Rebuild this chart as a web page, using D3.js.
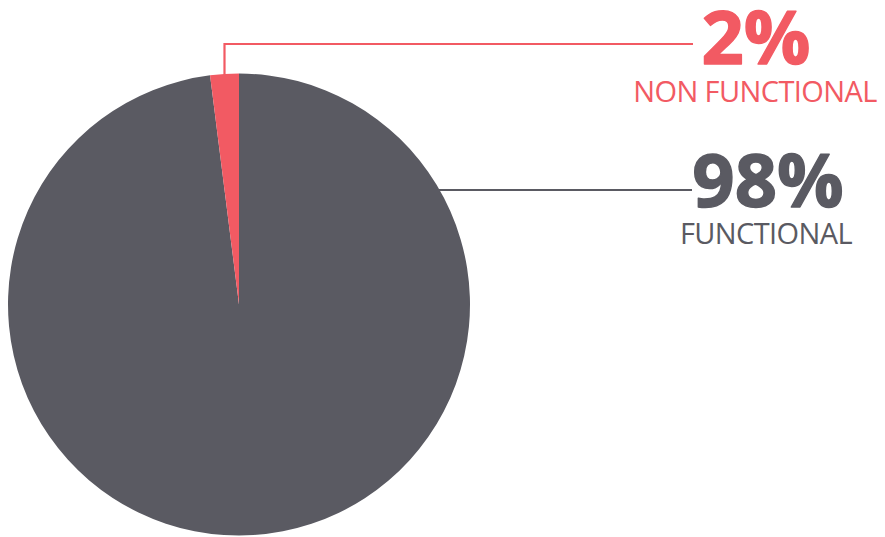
<!DOCTYPE html>
<html>
<head>
<meta charset="utf-8">
<script src="https://cdn.jsdelivr.net/npm/d3@7"></script>
<style>
  html, body { margin: 0; padding: 0; background: #ffffff; }
  svg { display: block; }
  text { font-family: "Open Sans", sans-serif; }
</style>
</head>
<body>
<svg id="chart" width="885" height="537"></svg>
<script>
// Data
const categories = ["FUNCTIONAL", "NON FUNCTIONAL"];
const values = [98, 2];
const percentLabels = ["98%", "2%"];
const colors = ["#5a5a62", "#f25a63"];

const svg = d3.select("#chart");
const cx = 239, cy = 304.5, r = 231;

const pie = d3.pie().sort(null).value(d => d.value);
const data = categories.map((c, i) => ({ name: c, value: values[i], label: percentLabels[i], color: colors[i] }));
const arcs = pie(data);
const arc = d3.arc().innerRadius(0).outerRadius(r);

const g = svg.append("g").attr("transform", `translate(${cx},${cy})`);
g.selectAll("path").data(arcs).join("path")
  .attr("d", arc)
  .attr("fill", d => d.data.color);

// Label layout
const layout = {
  "NON FUNCTIONAL": { lineY: 44, lineEndX: 693, textX: 756, smallX: 755, bigY: 64, smallY: 102 },
  "FUNCTIONAL": { lineY: 190, lineEndX: 692, textX: 768, smallX: 766, bigY: 207, smallY: 244 }
};

arcs.forEach(a => {
  const L = layout[a.data.name];
  let pts;
  if (a.data.name === "NON FUNCTIONAL") {
    const mid = (a.startAngle + a.endAngle) / 2;
    const px = cx + r * Math.sin(mid);
    const py = cy - r * Math.cos(mid);
    pts = [[px, py + 2], [px, L.lineY], [L.lineEndX, L.lineY]];
  } else {
    const dy = L.lineY - cy;
    const px = cx + Math.sqrt(r * r - dy * dy);
    pts = [[px - 2, L.lineY], [L.lineEndX, L.lineY]];
  }
  svg.append("path")
    .attr("d", d3.line()(pts))
    .attr("fill", "none")
    .attr("stroke", a.data.color)
    .attr("stroke-width", 2.2);

  svg.append("text")
    .attr("x", L.textX).attr("y", L.bigY)
    .attr("text-anchor", "middle")
    .attr("font-size", 74).attr("font-weight", 700)
    .attr("fill", a.data.color)
    .attr("stroke", a.data.color)
    .attr("stroke-width", 1.4)
    .attr("stroke-linejoin", "round")
    .text(a.data.label);

  svg.append("text")
    .attr("x", L.smallX).attr("y", L.smallY)
    .attr("text-anchor", "middle")
    .attr("font-size", 29)
    .attr("letter-spacing", -0.6)
    .attr("fill", a.data.color)
    .text(a.data.name);
});
</script>
</body>
</html>
